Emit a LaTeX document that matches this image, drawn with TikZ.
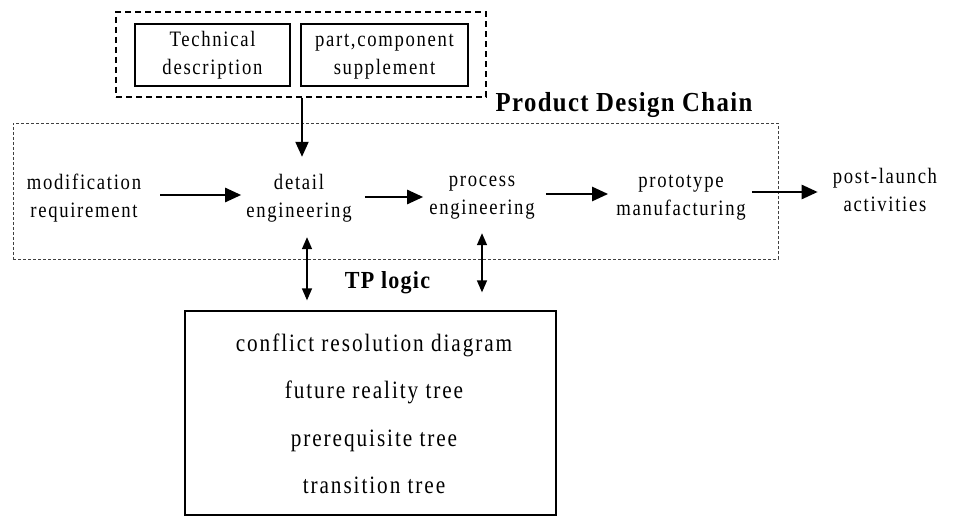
\documentclass[tikz,border=0pt]{standalone}
\usepackage{fontspec}
\setmainfont{Liberation Serif}[FakeStretch=0.85,LetterSpace=7.7]
\newfontfamily\titlefont{Liberation Serif Bold}[FakeStretch=0.9,LetterSpace=5]
\usetikzlibrary{arrows.meta}
\begin{document}
\begin{tikzpicture}[x=1pt,y=-1pt,
  stepbox/.style={font=\fontsize{22}{28}\selectfont, align=center, inner sep=0pt},
  boxed/.style={stepbox, draw, line width=1.3pt},
  linetxt/.style={font=\fontsize{25}{28}\selectfont, inner sep=0pt, anchor=base},
  title/.style={font=\titlefont\fontsize{27.5}{30}\selectfont, inner sep=0pt, anchor=base},
  harr/.style={-{Triangle[length=16pt,width=14pt]}, line width=2.5pt},
  varr/.style={-{Triangle[length=15pt,width=13pt]}, line width=2pt},
  darr/.style={{Triangle[length=12pt,width=10pt]}-{Triangle[length=12pt,width=10pt]}, line width=1.5pt},
]
\useasboundingbox (0,0) rectangle (954,516);

% top dashed group
\node[draw, line width=1.3pt, dash pattern=on 6pt off 4pt, minimum width=370pt, minimum height=85pt, inner sep=0pt] (top) at (301,54.5) {};
\node[boxed, minimum width=155pt, minimum height=62pt] (tech) at (212.5,55) {\strut Technical\\\strut description};
\node[boxed, minimum width=167pt, minimum height=62pt] (part) at (384.5,55) {\strut part,component\\\strut supplement};

% product design chain
\node[draw=black!75, line width=0.8pt, dash pattern=on 3pt off 2pt, minimum width=765pt, minimum height=136pt, inner sep=0pt] (pdc) at (395.5,191) {};
\node[title] (pdct) at (624,112) {Product Design Chain};

\node[stepbox] (mod) at (84,198) {\strut modification\\\strut requirement};
\node[stepbox] (det) at (299,198) {\strut detail\\\strut engineering};
\node[stepbox] (proc) at (482,195) {\strut process\\\strut engineering};
\node[stepbox] (proto) at (681,196) {\strut prototype\\\strut manufacturing};
\node[stepbox] (post) at (885,191.5) {\strut post-launch\\\strut activities};

\draw[harr, shorten <=19pt, shorten >=5pt] ([yshift=3pt]mod.east) -- ([yshift=3pt]mod.east -| det.west);
\draw[harr, shorten <=13pt, shorten >=6pt] ([yshift=1pt]det.east) -- ([yshift=1pt]det.east -| proc.west);
\draw[harr, shorten <=11pt, shorten >=8pt] ([yshift=1pt]proc.east) -- ([yshift=1pt]proc.east -| proto.west);
\draw[harr, shorten <=6pt, shorten >=15pt] ([yshift=4pt]proto.east) -- ([yshift=4pt]proto.east -| post.west);

\draw[varr, shorten >=13pt] ([xshift=3pt]det.north |- top.south) -- ([xshift=3pt]det.north);

% TP logic
\node[title, font=\titlefont\fontsize{24.5}{28}\selectfont] (tpt) at (387.5,288) {TP logic};
\node[draw, line width=1.3pt, minimum width=371pt, minimum height=204pt, inner sep=0pt] (tp) at (370.5,413) {};
\node[linetxt] (l1) at (374,351) {conflict resolution diagram};
\node[linetxt] (l2) at (374,398) {future reality tree};
\node[linetxt] (l3) at (374,446) {prerequisite tree};
\node[linetxt] (l4) at (374,493) {transition tree};

\draw[darr, shorten <=11pt, shorten >=10pt] ([xshift=8pt]det.south) -- ([xshift=8pt]det.south |- tp.north);
\draw[darr, shorten <=10pt, shorten >=18pt] (proc.south) -- (proc.south |- tp.north);
\end{tikzpicture}
\end{document}
